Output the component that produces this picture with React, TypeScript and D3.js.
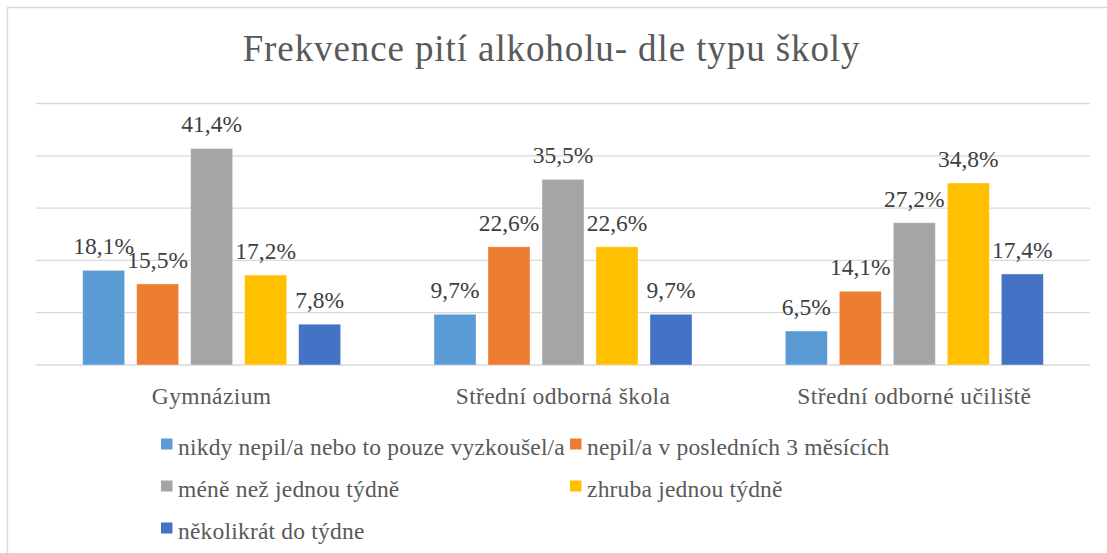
import React, { useEffect, useRef } from "react";
import * as d3 from "d3";

const categories = ["Gymnázium", "Střední odborná škola", "Střední odborné učiliště"];

const seriesNames = [
  "nikdy nepil/a nebo to pouze vyzkoušel/a",
  "nepil/a v posledních 3 měsících",
  "méně než jednou týdně",
  "zhruba jednou týdně",
  "několikrát do týdne",
];

const seriesColors = ["#5B9BD5", "#ED7D31", "#A5A5A5", "#FFC000", "#4472C4"];

// one array per school type, in series order
const gymnazium = [0.181, 0.155, 0.414, 0.172, 0.078];
const sos = [0.097, 0.226, 0.355, 0.226, 0.097];
const sou = [0.065, 0.141, 0.272, 0.348, 0.174];
const values = [gymnazium, sos, sou];

const yTicks = [0, 0.1, 0.2, 0.3, 0.4, 0.5];

const W = 1107;
const H = 553;

const cz = d3.formatLocale({
  decimal: ",",
  thousands: " ",
  grouping: [3],
  currency: ["", " Kč"],
});
const pct = cz.format(".1%");

export default function App() {
  const svgRef = useRef<SVGSVGElement>(null);

  useEffect(() => {
    document.body.style.margin = "0";
    const svg = d3.select(svgRef.current);
    svg.selectAll("*").remove();

    const left = 36;
    const right = 1090;
    const bottom = 365;
    const top = 103.5;

    // ---- scales ----
    const x0 = d3.scaleBand<string>().domain(categories).range([left, right]);
    const x1 = d3
      .scaleBand<string>()
      .domain(seriesNames)
      .range([0, x0.bandwidth()])
      .paddingInner(0.222)
      .paddingOuter(0.864);
    const y = d3.scaleLinear().domain([0, 0.5]).range([bottom, top]);

    // ---- border (top + left visible) ----
    svg.append("path")
      .attr("d", `M${W},7.5H7.5V${H}`)
      .attr("fill", "none")
      .attr("stroke", "#d9d9d9")
      .attr("stroke-width", 1.3);

    // ---- title ----
    svg.append("text")
      .attr("x", 551.5)
      .attr("y", 61)
      .attr("text-anchor", "middle")
      .attr("font-family", "Liberation Serif")
      .attr("font-size", 37)
      .attr("letter-spacing", 0.9)
      .attr("fill", "#595959")
      .text("Frekvence pití alkoholu-  dle typu školy");

    // ---- gridlines ----
    svg.append("g")
      .selectAll("line")
      .data(yTicks)
      .join("line")
      .attr("x1", left)
      .attr("x2", right)
      .attr("y1", d => y(d))
      .attr("y2", d => y(d))
      .attr("stroke", "#d9d9d9")
      .attr("stroke-width", d => (d === 0 ? 1.6 : 1.3));

    // ---- bars + labels ----
    const groups = svg.append("g")
      .selectAll("g")
      .data(categories)
      .join("g")
      .attr("transform", d => `translate(${x0(d)},0)`);

    groups.each(function (cat, ci) {
      const g = d3.select(this);
      const rows = values[ci].map((v, si) => ({ v, s: seriesNames[si], c: seriesColors[si] }));

      g.selectAll("rect")
        .data(rows)
        .join("rect")
        .attr("x", d => x1(d.s) as number)
        .attr("y", d => y(d.v))
        .attr("width", x1.bandwidth())
        .attr("height", d => bottom - y(d.v))
        .attr("fill", d => d.c)
        .attr("stroke", "#fff")
        .attr("stroke-opacity", 0.5)
        .attr("stroke-width", 0.75);

      g.selectAll("text.lbl")
        .data(rows)
        .join("text")
        .attr("class", "lbl")
        .attr("x", d => (x1(d.s) as number) + x1.bandwidth() / 2)
        .attr("y", d => y(d.v) - 16)
        .attr("text-anchor", "middle")
        .attr("font-family", "Liberation Serif")
        .attr("font-size", 23.5)
        .attr("fill", "#404040")
        .text(d => pct(d.v));

      g.append("text")
        .attr("x", x0.bandwidth() / 2)
        .attr("y", 404)
        .attr("text-anchor", "middle")
        .attr("font-family", "Liberation Serif")
        .attr("font-size", 23.5)
        .attr("letter-spacing", 0.4)
        .attr("fill", "#595959")
        .text(cat);
    });

    // ---- legend, two columns ----
    const legendCols = [161, 570];
    const legendRows = [455, 497, 539];
    const items = svg.append("g")
      .selectAll("g")
      .data(seriesNames)
      .join("g")
      .attr("transform", (d, i) => `translate(${legendCols[i % 2]},${legendRows[Math.floor(i / 2)]})`);

    items.append("rect")
      .attr("y", -16.5)
      .attr("width", 11.5)
      .attr("height", 11)
      .attr("fill", (d, i) => seriesColors[i]);

    items.append("text")
      .attr("x", 17)
      .attr("font-family", "Liberation Serif")
      .attr("font-size", 23.5)
      .attr("letter-spacing", 0.2)
      .attr("fill", "#595959")
      .text(d => d);
  }, []);

  return <svg ref={svgRef} width={W} height={H} style={{ display: "block" }} />;
}
